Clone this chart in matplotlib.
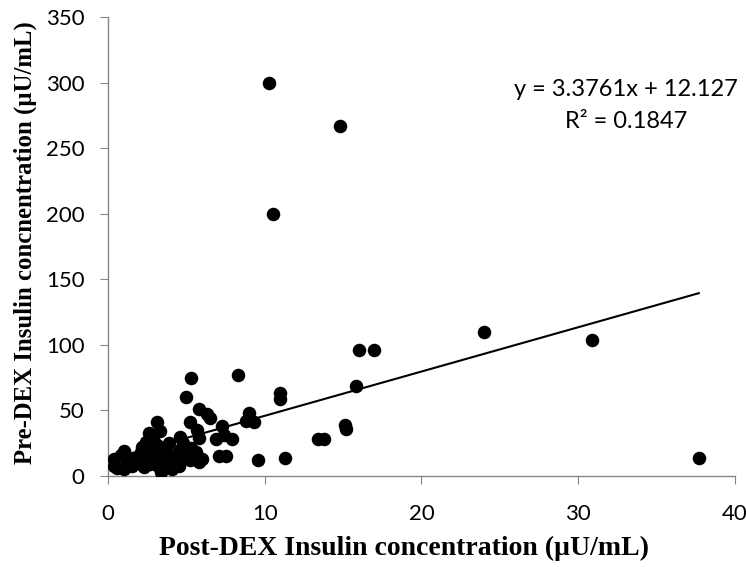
import matplotlib
matplotlib.use("Agg")
import matplotlib.pyplot as plt
import numpy as np

post_dex = [10.3, 14.8, 10.5, 24.0, 30.9, 37.7, 16.0, 17.0, 15.8, 15.1, 15.2, 13.4, 13.8, 11.3,
            11.0, 11.0, 9.6, 8.3, 9.0, 8.8, 9.3, 5.3, 5.0, 5.8, 6.3, 6.5, 3.1, 5.2, 5.7, 5.8,
            4.6, 7.3, 7.4, 6.9, 7.9, 7.1, 7.5, 5.2, 5.8, 5.3, 3.3, 2.6, 2.4, 2.2, 2.8, 3.0,
            2.5, 1.0, 0.8, 0.4, 0.4, 1.0, 1.5, 2.0, 1.8, 2.3, 2.7, 3.0, 3.2, 3.4, 3.6, 3.8,
            4.0, 4.2, 4.4, 4.6, 4.8, 3.5, 3.7, 3.9, 2.9, 2.0, 1.2, 0.6, 4.1, 4.5, 3.3, 2.6,
            3.1, 5.6, 6.0, 4.9, 1.6, 2.1, 3.6]
pre_dex = [300, 267, 200, 110, 104, 14, 96, 96, 69, 39, 36, 28, 28, 14,
           63, 59, 12, 77, 48, 42, 41, 75, 60, 51, 47, 44, 41, 41, 35, 29,
           30, 38, 31, 28, 28, 15, 15, 12, 11, 21, 34, 33, 26, 22, 20, 17,
           15, 19, 16, 8, 13, 5, 8, 10, 12, 7, 9, 12, 8, 3, 6, 10,
           14, 10, 17, 20, 25, 18, 22, 25, 28, 15, 10, 6, 5, 8, 14, 12,
           24, 18, 13, 16, 14, 18, 12]

slope = 3.3761
intercept = 12.127
r_squared = 0.1847

x_ticks = [0, 10, 20, 30, 40]
y_ticks = [0, 50, 100, 150, 200, 250, 300, 350]

fig = plt.figure(figsize=(7.46, 5.67), dpi=100)
ax = fig.add_axes([0.1448, 0.1605, 0.8402, 0.8095])

ax.scatter(post_dex, pre_dex, s=95, color="black", zorder=3, linewidths=0)

xs = np.array([min(post_dex), max(post_dex)])
ax.plot(xs, slope * xs + intercept, color="black", linewidth=1.5, zorder=4)

ax.set_xlim(0, 40)
ax.set_ylim(0, 350)
ax.set_xticks(x_ticks)
ax.set_yticks(y_ticks)

for s in ["top", "right"]:
    ax.spines[s].set_visible(False)
for s in ["left", "bottom"]:
    ax.spines[s].set_color("#868686")
    ax.spines[s].set_linewidth(1.0)
ax.tick_params(axis="both", direction="out", length=6, color="#868686", labelsize=16)
ax.tick_params(axis="x", pad=14)
ax.tick_params(axis="y", pad=11)
for lab in ax.get_xticklabels() + ax.get_yticklabels():
    lab.set_fontfamily("Lato")

ax.set_xlabel("Post-DEX Insulin concentration (\u00b5U/mL)", family="Liberation Serif",
              fontweight="bold", fontsize=20, va="center", ha="center")
ax.xaxis.set_label_coords(0.473, -0.157)
ax.set_ylabel("Pre-DEX Insulin concnentration (\u00b5U/mL)", family="Liberation Serif",
              fontweight="bold", fontsize=17.8, va="center", ha="center")
ax.yaxis.set_label_coords(-0.132, 0.509)

ax.text(0.826, 0.843, "y = 3.3761x + 12.127", transform=ax.transAxes, ha="center",
        va="center", family="Lato", fontsize=17)
ax.text(0.826, 0.772, "R\u00b2 = 0.1847", transform=ax.transAxes, ha="center",
        va="center", family="Lato", fontsize=17)

fig.savefig("out.png", dpi=100)
